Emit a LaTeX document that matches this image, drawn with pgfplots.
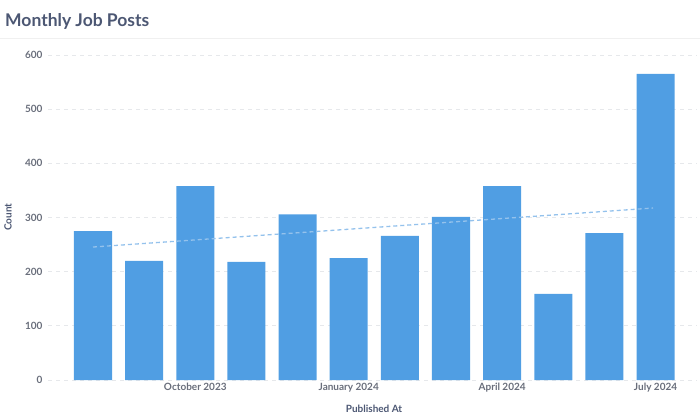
\documentclass[border=0pt]{standalone}
\usepackage{pgfplots}
\pgfplotsset{compat=1.18}
\usepackage{fontspec}
\setmainfont{Lato}
\definecolor{barblue}{HTML}{509EE3}
\definecolor{trendblue}{HTML}{94C2EC}
\definecolor{titlecol}{HTML}{4C5773}
\definecolor{tickcol}{HTML}{696E7B}
\definecolor{gridcol}{HTML}{E6E8EB}
\definecolor{sepcol}{HTML}{F0F0F0}
\begin{document}
\begin{tikzpicture}
\path[use as bounding box] (0,0) rectangle (700bp,-417bp);
\draw[sepcol, line width=1bp] (0,-38bp) -- (700bp,-38bp);
\node[anchor=base west, inner sep=0pt, text=titlecol, font=\fontsize{17.5bp}{20bp}\selectfont\bfseries] at (5bp,-26bp) {Monthly Job Posts};
\begin{axis}[
  at={(48bp,-380bp)}, anchor=south west,
  scale only axis, width=649bp, height=325bp,
  xmin=-0.88, xmax=11.81, ymin=0, ymax=600,
  axis line style={draw=none},
  major tick style={draw=none},
  ytick={0,100,...,600},
  ymajorgrids,
  grid style={gridcol, dash pattern=on 4bp off 4bp, line width=0.8bp},
  xtick={2,5,8,11},
  xticklabels={October 2023, January 2024, April 2024, July 2024},
  tick label style={text=tickcol, font=\fontsize{10bp}{12bp}\selectfont\bfseries},
  /pgf/number format/assume math mode=true,
  yticklabel style={xshift=-2bp},
  xticklabel style={yshift=0bp},
  clip=false,
]
\addplot[ybar, bar width=0.744, fill=barblue, draw=none] coordinates {
  (0,275) (1,220) (2,358) (3,218) (4,306) (5,225)
  (6,266) (7,301) (8,358) (9,159) (10,271) (11,565)
};
\addplot[trendblue, line width=1.3bp, dash pattern=on 4bp off 3bp] coordinates {
  (0,245.5) (10.95,317.5)
};
\end{axis}
\node[rotate=90, text=titlecol, font=\fontsize{10bp}{12bp}\selectfont\bfseries] at (8bp,-217bp) {Count};
\node[text=titlecol, font=\fontsize{10bp}{12bp}\selectfont\bfseries] at (374bp,-409bp) {Published At};
\end{tikzpicture}
\end{document}
